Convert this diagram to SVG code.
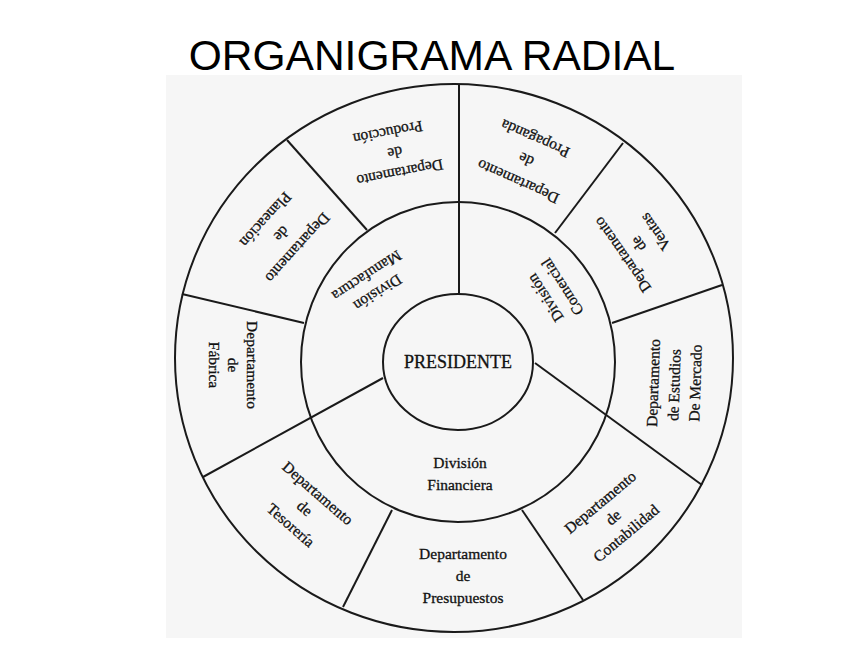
<svg xmlns="http://www.w3.org/2000/svg" width="864" height="648" viewBox="0 0 864 648">
<style>
.ring{fill:none;stroke:#1a1a1a;stroke-width:2}
.div{stroke:#1a1a1a;stroke-width:2;fill:none}
.t{font-family:"Liberation Serif","Times New Roman",serif;font-size:15.5px;fill:#111;stroke:#111;stroke-width:0.3;text-anchor:middle;dominant-baseline:central}
.title{font-family:"Liberation Sans",Arial,sans-serif;font-size:42.5px;fill:#000;text-anchor:middle}
</style>
<rect width="864" height="648" fill="#ffffff"/>
<rect x="166" y="75" width="576" height="563" fill="#f6f6f6"/>
<text class="title" x="432" y="70">ORGANIGRAMA RADIAL</text>
<g id="rings">
<ellipse class="ring" cx="454" cy="358" rx="279" ry="274"/>
<ellipse class="ring" cx="458" cy="362" rx="157" ry="160"/>
<ellipse class="ring" cx="458" cy="362" rx="75" ry="68"/>
</g>
<g id="connectors">
<line class="div" x1="459" y1="294" x2="459" y2="84"/>
<line class="div" x1="367" y1="230" x2="287" y2="140"/>
<line class="div" x1="304" y1="323" x2="182" y2="294"/>
<line class="div" x1="383" y1="378" x2="203" y2="477"/>
<line class="div" x1="392" y1="510" x2="343" y2="607"/>
<line class="div" x1="522" y1="510" x2="583" y2="600"/>
<line class="div" x1="535" y1="363" x2="702" y2="485"/>
<line class="div" x1="612" y1="323" x2="722" y2="285"/>
<line class="div" x1="555" y1="233" x2="623" y2="143"/>
</g>
<g id="presidente">
<text class="t" x="458" y="362" style="font-size:18px">PRESIDENTE</text>
</g>
<g id="division-manufactura">
<text class="t" transform="translate(378,293) rotate(147)">División</text>
<text class="t" transform="translate(367,276) rotate(147)">Manufactura</text>
</g>
<g id="division-comercial">
<text class="t" transform="translate(545,298) rotate(237)">División</text>
<text class="t" transform="translate(562,287) rotate(237)">Comercial</text>
</g>
<g id="division-financiera">
<text class="t" x="460" y="462">División</text>
<text class="t" x="460" y="484">Financiera</text>
</g>
<g id="dep-produccion">
<text class="t" transform="translate(400,173) rotate(169)">Departamento</text>
<text class="t" transform="translate(395,153) rotate(169)">de</text>
<text class="t" transform="translate(388,133) rotate(169)">Producción</text>
</g>
<g id="dep-propaganda">
<text class="t" transform="translate(518,182) rotate(204)">Departamento</text>
<text class="t" transform="translate(526,160) rotate(204)">de</text>
<text class="t" transform="translate(535,139) rotate(204)">Propaganda</text>
</g>
<g id="dep-ventas">
<text class="t" transform="translate(622,255) rotate(235)">Departamento</text>
<text class="t" transform="translate(638,244) rotate(235)">de</text>
<text class="t" transform="translate(655,232) rotate(235)">Ventas</text>
</g>
<g id="dep-estudios">
<text class="t" transform="translate(653,383) rotate(-88)">Departamento</text>
<text class="t" transform="translate(674,385) rotate(-88)">de Estudios</text>
<text class="t" transform="translate(695,383) rotate(-88)">De Mercado</text>
</g>
<g id="dep-contabilidad">
<text class="t" transform="translate(600,502) rotate(-40)">Departamento</text>
<text class="t" transform="translate(613,517) rotate(-40)">de</text>
<text class="t" transform="translate(626,533) rotate(-40)">Contabilidad</text>
</g>
<g id="dep-presupuestos">
<text class="t" x="463" y="553">Departamento</text>
<text class="t" x="463" y="575">de</text>
<text class="t" x="463" y="597">Presupuestos</text>
</g>
<g id="dep-tesoreria">
<text class="t" transform="translate(318,493) rotate(41)">Departamento</text>
<text class="t" transform="translate(305,508) rotate(41)">de</text>
<text class="t" transform="translate(291,525) rotate(41)">Tesorería</text>
</g>
<g id="dep-fabrica">
<text class="t" transform="translate(252,365) rotate(90)">Departamento</text>
<text class="t" transform="translate(233,365) rotate(90)">de</text>
<text class="t" transform="translate(214,365) rotate(90)">Fábrica</text>
</g>
<g id="dep-planeacion">
<text class="t" transform="translate(298,248) rotate(132)">Departamento</text>
<text class="t" transform="translate(282,234) rotate(132)">de</text>
<text class="t" transform="translate(266,220) rotate(132)">Planeación</text>
</g>
</svg>
